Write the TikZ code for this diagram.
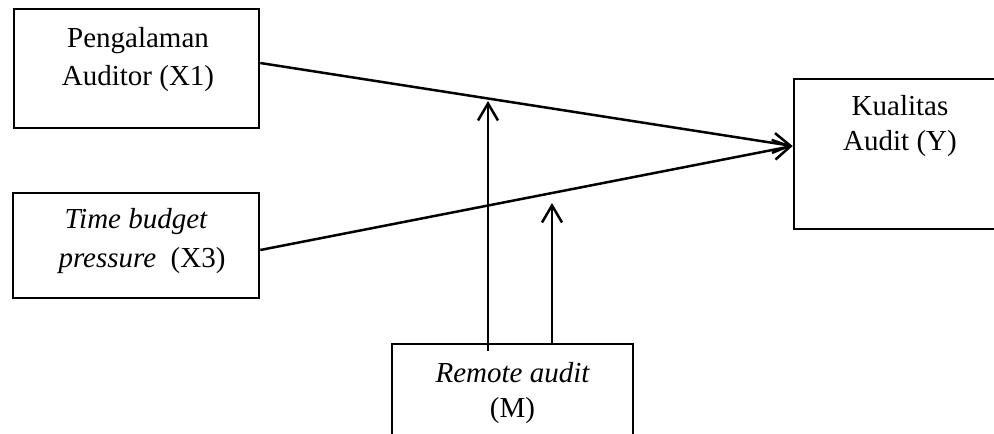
\documentclass[tikz,border=0pt]{standalone}
\usepackage{fontspec}
\setmainfont{Liberation Serif}
\usetikzlibrary{arrows.meta}
\begin{document}
\begin{tikzpicture}[x=1pt,y=-1pt,
  box/.style={draw,line width=2.6pt,rectangle,inner sep=0pt},
  lbl/.style={inner sep=0pt,anchor=base,font=\fontsize{29}{38}\selectfont},
  conn/.style={line width=2.5pt,-{Straight Barb[length=17pt,width=20pt,line width=2.5pt]}}]
\useasboundingbox (0,0) rectangle (994,434);
\clip (0,0) rectangle (994,434);
\fill[white] (0,0) rectangle (994,434);
% boxes
\node[box,minimum width=245pt,minimum height=119pt] (X1) at (136.5,68.5) {};
\node[box,minimum width=246pt,minimum height=105pt] (X3) at (136,245.5) {};
\node[box,minimum width=212pt,minimum height=150pt] (Y) at (900,154) {};
\node[box,minimum width=241pt,minimum height=130pt] (M) at (512.5,409) {};
% texts
\node[lbl] (x1a) at (138,47) {Pengalaman};
\node[lbl] (x1b) at (138,85) {Auditor (X1)};
\node[lbl] (x3a) at (136,228) {\itshape Time budget};
\node[lbl] (x3b) at (142,267) {\itshape pressure\upshape\ \ (X3)};
\node[lbl] (ya) at (900,115) {Kualitas};
\node[lbl] (yb) at (900,150) {Audit (Y)};
\node[lbl] (ma) at (512.5,382) {\itshape Remote audit};
\node[lbl] (mb) at (512.5,417) {(M)};
% connector anchor points
\coordinate (s1) at (X1.east |- 0,63);
\coordinate (s3) at (X3.east |- 0,250);
\coordinate (t) at (Y.west |- 0,146);
\coordinate (m1) at (488,351);
\coordinate (m1t) at (488,101);
\coordinate (m2) at (M.north -| 552,0);
\coordinate (m2t) at (552,203);
\draw[conn] (s1) -- (t);
\draw[conn] (s3) -- (t);
\draw[conn] (m1) -- (m1t);
\draw[conn] (m2) -- (m2t);
\end{tikzpicture}
\end{document}
